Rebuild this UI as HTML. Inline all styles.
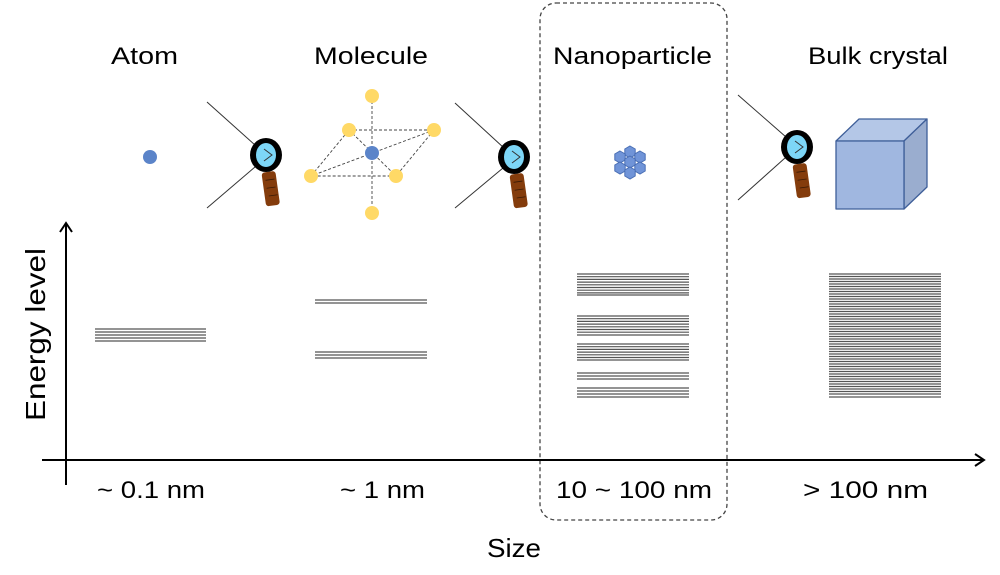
<!DOCTYPE html>
<html><head><meta charset="utf-8"><style>html,body{margin:0;padding:0;background:#fff}svg{display:block}</style></head>
<body>
<svg width="1000" height="575" viewBox="0 0 1000 575" xmlns="http://www.w3.org/2000/svg" font-family="Liberation Sans, sans-serif">
<defs>
<g id="mag">
<rect x="-7" y="17" width="14" height="34" rx="3" fill="#843c0c" transform="rotate(-8)"/>
<path d="M-4 25 h9 M-4 33 h9 M-3 41 h9" stroke="#3a1a05" stroke-width="0.8" transform="rotate(-8)"/>
<ellipse cx="0" cy="0" rx="16" ry="17" fill="#000"/>
<ellipse cx="0" cy="0" rx="10" ry="12" fill="#7dd6f7"/>
<path d="M-2 -6 L6 0 L-2 6" fill="none" stroke="#333" stroke-width="1"/>
</g>
<polygon id="hx" points="0,-6 5.2,-3 5.2,3 0,6 -5.2,3 -5.2,-3" fill="#7094d8" stroke="#4a6fb5" stroke-width="1"/>
</defs>

<rect x="540" y="3" width="187" height="517" rx="16" fill="none" stroke="#444" stroke-width="1.3" stroke-dasharray="4,3"/>

<g font-size="24" fill="#000">
<text x="111" y="64" textLength="67" lengthAdjust="spacingAndGlyphs">Atom</text>
<text x="314" y="64" textLength="114" lengthAdjust="spacingAndGlyphs">Molecule</text>
<text x="553" y="64" textLength="159" lengthAdjust="spacingAndGlyphs">Nanoparticle</text>
<text x="808" y="64" textLength="140" lengthAdjust="spacingAndGlyphs">Bulk crystal</text>
</g>

<circle cx="150" cy="157" r="7" fill="#5b84c9"/>

<g stroke="#333" stroke-width="1">
<line x1="207" y1="102" x2="255" y2="145"/><line x1="207" y1="208" x2="255" y2="167"/>
<line x1="455" y1="103" x2="504" y2="148"/><line x1="455" y1="208" x2="503" y2="168"/>
<line x1="738" y1="95" x2="786" y2="137"/><line x1="738" y1="200" x2="785" y2="158"/>
</g>
<use href="#mag" x="266" y="155"/>
<use href="#mag" x="514" y="157"/>
<use href="#mag" x="797" y="147"/>

<g stroke="#444" stroke-width="0.9" stroke-dasharray="3,2" fill="none">
<line x1="372" y1="96" x2="372" y2="213"/>
<polygon points="349,130 434,130 396,176 311,176"/>
<line x1="349" y1="130" x2="396" y2="176"/>
<line x1="434" y1="130" x2="311" y2="176"/>
</g>
<g fill="#ffd966">
<circle cx="372" cy="96" r="7"/><circle cx="372" cy="213" r="7"/>
<circle cx="349" cy="130" r="7"/><circle cx="434" cy="130" r="7"/>
<circle cx="311" cy="176" r="7"/><circle cx="396" cy="176" r="7"/>
</g>
<circle cx="372" cy="153" r="7" fill="#5b84c9"/>

<g>
<use href="#hx" x="630" y="152"/>
<use href="#hx" x="620" y="157"/><use href="#hx" x="640" y="157"/>
<use href="#hx" x="630" y="162"/>
<use href="#hx" x="620" y="168"/><use href="#hx" x="640" y="168"/>
<use href="#hx" x="630" y="173"/>
</g>

<g stroke="#3f5f99" stroke-width="1.3" stroke-linejoin="round">
<polygon points="836,141 859,119 927,119 904,141" fill="#b4c7e7"/>
<polygon points="904,141 927,119 927,187 904,209" fill="#9aadcf"/>
<rect x="836" y="141" width="68" height="68" fill="#a0b7e0"/>
</g>

<g stroke="#000" stroke-width="2" fill="none">
<line x1="66" y1="485" x2="66" y2="224"/>
<path d="M60 232 L66 223 L72 232"/>
<line x1="42" y1="460" x2="983" y2="460"/>
<path d="M975 454 L984 460 L975 466"/>
</g>

<text transform="translate(45,421) rotate(-90)" font-size="28" textLength="173" lengthAdjust="spacingAndGlyphs">Energy level</text>

<g stroke="#555" stroke-width="1.2">
<path d="M95 329h111M95 332h111M95 335h111M95 338h111M95 341h111"/>
<path d="M315 300h112M315 303h112M315 352h112M315 355h112M315 358h112"/>
<path d="M577 274h112M577 276.7h112M577 279.4h112M577 282.1h112M577 284.8h112M577 287.5h112M577 290.2h112M577 292.9h112M577 295h112
M577 316h112M577 318.7h112M577 321.4h112M577 324.1h112M577 326.8h112M577 329.5h112M577 332.2h112M577 335h112
M577 344h112M577 346.7h112M577 349.4h112M577 352.1h112M577 354.8h112M577 357.5h112M577 360h112
M577 373h112M577 376h112M577 379h112
M577 388h112M577 391h112M577 394h112M577 397h112"/>
<path d="M829 274h112M829 276.5h112M829 279h112M829 281.5h112M829 284h112M829 286.5h112M829 289h112M829 291.5h112M829 294h112M829 296.5h112M829 299h112M829 301.5h112M829 304h112M829 306.5h112M829 309h112M829 311.5h112M829 314h112M829 316.5h112M829 319h112M829 321.5h112M829 324h112M829 326.5h112M829 329h112M829 331.5h112M829 334h112M829 336.5h112M829 339h112M829 341.5h112M829 344h112M829 346.5h112M829 349h112M829 351.5h112M829 354h112M829 356.5h112M829 359h112M829 361.5h112M829 364h112M829 366.5h112M829 369h112M829 371.5h112M829 374h112M829 376.5h112M829 379h112M829 381.5h112M829 384h112M829 386.5h112M829 389h112M829 391.5h112M829 394h112M829 397h112"/>
</g>

<g font-size="24" fill="#000">
<text x="97" y="498" textLength="108" lengthAdjust="spacingAndGlyphs">~ 0.1 nm</text>
<text x="340" y="498" textLength="85" lengthAdjust="spacingAndGlyphs">~ 1 nm</text>
<text x="556" y="498" textLength="156" lengthAdjust="spacingAndGlyphs">10 ~ 100 nm</text>
<text x="803" y="498" textLength="125" lengthAdjust="spacingAndGlyphs">&gt; 100 nm</text>
<text x="487" y="557" font-size="26" textLength="54" lengthAdjust="spacingAndGlyphs">Size</text>
</g>
</svg>
</body></html>
